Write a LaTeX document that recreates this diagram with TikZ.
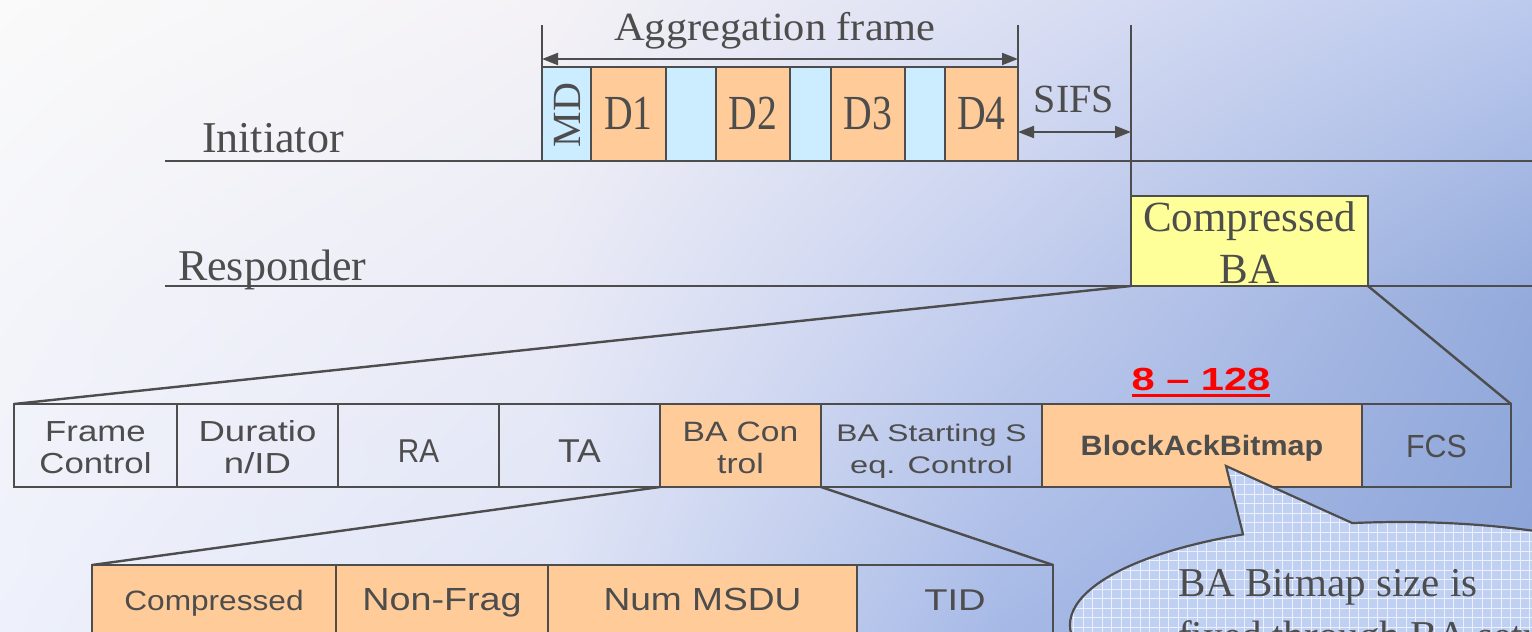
\documentclass[tikz,border=0pt]{standalone}
\usepackage{fontspec}
\usepackage{graphicx}
\setmainfont{Liberation Serif}
\newfontfamily\sansf{Liberation Sans}
\usetikzlibrary{arrows.meta,shadings,calc}

\definecolor{ink}{HTML}{4D4D4D}
\definecolor{dataorange}{HTML}{FFCC99}
\definecolor{delimblue}{HTML}{CCECFF}
\definecolor{bayellow}{HTML}{FFFF99}
\definecolor{calloutblue}{HTML}{C0D0F2}
\definecolor{alertred}{HTML}{FF0000}
% background tints: top, middle (y=300) and bottom of four columns
\definecolor{bgA}{HTML}{FAFAFA}\definecolor{bgAm}{HTML}{F4F5FA}\definecolor{bgAb}{HTML}{EEF1FB}
\definecolor{bgB}{HTML}{F4F2F6}\definecolor{bgBm}{HTML}{E9EAF6}\definecolor{bgBb}{HTML}{DDE3F6}
\definecolor{bgC}{HTML}{DCE0F3}\definecolor{bgCm}{HTML}{C2CDEE}\definecolor{bgCb}{HTML}{A6B9E6}
\definecolor{bgD}{HTML}{BCCAEE}\definecolor{bgDm}{HTML}{93AADB}\definecolor{bgDb}{HTML}{8AA3D8}

\newcommand\fsz[1]{\fontsize{#1}{#1}\selectfont}
\newcommand\sx[2]{\scalebox{#1}[1]{#2}}
\newcommand\redul[1]{\setbox0\hbox{#1}\rlap{\color{alertred}\rule[-7pt]{\wd0}{3pt}}\box0}
% one field of a frame: name, left, top, right, bottom, fill
\newcommand\fieldbox[6]{%
  \node[fieldcell, fill=#6, minimum width={#4-#2}, minimum height={#5-#3}]
    (#1) at ({(#2+#4)/2},{(#3+#5)/2}) {};}
% one backdrop patch: left, top, right, bottom, four corner colours
\newcommand\bgpatch[8]{%
  \shade[upper left=#5, upper right=#6, lower left=#7, lower right=#8] (#1,#2) rectangle (#3,#4);}

\tikzset{
  ln/.style={draw=ink, line width=2.4pt},
  fieldcell/.style={draw=ink, line width=2.4pt, rectangle, inner sep=0pt, outer sep=0pt},
  lbl/.style={text=ink, inner sep=0pt, outer sep=0pt, anchor=base},
  seriflbl/.style={lbl, font=\fsz{#1}},
  sanslbl/.style={lbl, font=\sansf\fsz{#1}},
  dimarrow/.style={draw=ink, line width=2pt,
    {Triangle[length=16pt,width=12pt]}-{Triangle[length=16pt,width=12pt]}},
}

\begin{document}
\begin{tikzpicture}[x=1pt,y=-1pt]
\useasboundingbox (0,0) rectangle (1532,632);
\clip (0,0) rectangle (1532,632);

% backdrop
\bgpatch{0}{0}{551}{301}{bgA}{bgB}{bgAm}{bgBm}
\bgpatch{550}{0}{1001}{301}{bgB}{bgC}{bgBm}{bgCm}
\bgpatch{1000}{0}{1532}{301}{bgC}{bgD}{bgCm}{bgDm}
\bgpatch{0}{300}{551}{632}{bgAm}{bgBm}{bgAb}{bgBb}
\bgpatch{550}{300}{1001}{632}{bgBm}{bgCm}{bgBb}{bgCb}
\bgpatch{1000}{300}{1532}{632}{bgCm}{bgDm}{bgCb}{bgDb}

% time lines
\coordinate (initL) at (165,161);
\coordinate (initR) at (1532,161);
\coordinate (respL) at (165,286);
\coordinate (respR) at (1532,286);
\draw[ln] (initL) -- (initR);
\draw[ln] (respL) -- (respR);

\node[seriflbl=44, anchor=base west] (initlbl) at (202,152) {Initiator};
\node[seriflbl=44, anchor=base west] (resplbl) at (178,280) {Responder};

% aggregated frame
\fieldbox{md}{542}{67}{591}{161}{delimblue}
\fieldbox{d1}{591}{67}{666}{161}{dataorange}
\fieldbox{g1}{666}{67}{716}{161}{delimblue}
\fieldbox{d2}{716}{67}{790}{161}{dataorange}
\fieldbox{g2}{790}{67}{831}{161}{delimblue}
\fieldbox{d3}{831}{67}{905}{161}{dataorange}
\fieldbox{g3}{905}{67}{945}{161}{delimblue}
\fieldbox{d4}{945}{67}{1018}{161}{dataorange}

\node[lbl, font=\fsz{40}, rotate=90, anchor=center] (mdlbl) at (567,115) {MD};
\node[seriflbl=49] (d1lbl) at (d1.center |- 0,129) {\sx{0.81}{D1}};
\node[seriflbl=49] (d2lbl) at (d2.center |- 0,129) {\sx{0.81}{D2}};
\node[seriflbl=49] (d3lbl) at (d3.center |- 0,129) {\sx{0.81}{D3}};
\node[seriflbl=49] (d4lbl) at (d4.center |- 0,129) {\sx{0.81}{D4}};

% extent of the aggregation frame
\coordinate (aggTopL) at (542,25);
\coordinate (aggTopR) at (1018,25);
\coordinate (aggArrL) at (542,59);
\coordinate (aggArrR) at (1018,59);
\draw[ln, line width=2pt] (aggTopL) -- (md.north west);
\draw[ln, line width=2pt] (aggTopR) -- (d4.north east);
\draw[dimarrow] (aggArrL) -- (aggArrR);
\node[seriflbl=40] (agglbl) at (775,40) {\sx{1.06}{Aggregation frame}};

% compressed block ack
\fieldbox{cba}{1131}{196}{1368}{286}{bayellow}
\node[seriflbl=43] (cbalbl1) at (cba.center |- 0,231) {Compressed};
\node[seriflbl=43] (cbalbl2) at (cba.center |- 0,283) {BA};

% SIFS gap
\coordinate (sifsTop) at (1131,25);
\coordinate (sifsL) at (1018,132);
\coordinate (sifsR) at (1131,132);
\draw[ln, line width=2pt] (sifsTop) -- (cba.north west);
\draw[dimarrow] (sifsL) -- (sifsR);
\node[seriflbl=40] (sifslbl) at (1074,112) {SIFS};

% block ack frame format
\fieldbox{fc}{14}{404}{177}{487}{none}
\fieldbox{dur}{177}{404}{338}{487}{none}
\fieldbox{ra}{338}{404}{499}{487}{none}
\fieldbox{ta}{499}{404}{660}{487}{none}
\fieldbox{bac}{660}{404}{821}{487}{dataorange}
\fieldbox{bass}{821}{404}{1042}{487}{none}
\fieldbox{bab}{1042}{404}{1362}{487}{dataorange}
\fieldbox{fcs}{1362}{404}{1511}{487}{none}

\draw[ln] (cba.south west) -- (fc.north west);
\draw[ln] (cba.south east) -- (fcs.north east);

\node[sanslbl=29] (fclbl1) at (fc.center |- 0,441.7) {\sx{1.2}{Frame}};
\node[sanslbl=29] (fclbl2) at (fc.center |- 0,473) {\sx{1.2}{Control}};
\node[sanslbl=29] (durlbl1) at (dur.center |- 0,441.7) {\sx{1.26}{Duratio}};
\node[sanslbl=29] (durlbl2) at (dur.center |- 0,473) {\sx{1.26}{n/ID}};
\node[sanslbl=33] (ralbl) at (ra.center |- 0,462) {\sx{0.9}{RA}};
\node[sanslbl=33] (talbl) at (ta.center |- 0,462) {\sx{1.08}{TA}};
\node[sanslbl=28] (baclbl1) at (bac.center |- 0,441.7) {\sx{1.2}{BA Con}};
\node[sanslbl=28] (baclbl2) at (bac.center |- 0,473) {\sx{1.2}{trol}};
\node[sanslbl=24] (basslbl1) at (bass.center |- 0,441.7) {\sx{1.32}{BA Starting S}};
\node[sanslbl=24] (basslbl2) at (bass.center |- 0,473) {\sx{1.36}{eq. Control}};
\node[lbl, font=\sansf\bfseries\fsz{28}] (bablbl) at (bab.center |- 0,455) {\sx{1.09}{BlockAckBitmap}};
\node[sanslbl=32] (fcslbl) at (fcs.center |- 0,457) {\sx{0.95}{FCS}};
\node[lbl, text=alertred, font=\sansf\bfseries\fsz{32}] (sizelbl) at (1201,390) {\redul{\sx{1.3}{8 – 128}}};

% BA control subfields
\fieldbox{comp}{92}{565}{336}{650}{dataorange}
\fieldbox{nonfrag}{336}{565}{548}{650}{dataorange}
\fieldbox{nummsdu}{548}{565}{857}{650}{dataorange}
\fieldbox{tid}{857}{565}{1053}{650}{none}

\draw[ln] (bac.south west) -- (comp.north west);
\draw[ln] (bac.south east) -- (tid.north east);

\node[sanslbl=28] (complbl) at (comp.center |- 0,610) {\sx{1.13}{Compressed}};
\node[sanslbl=32] (nonfraglbl) at (nonfrag.center |- 0,610) {\sx{1.18}{Non-Frag}};
\node[sanslbl=32] (nummsdulbl) at (nummsdu.center |- 0,610) {\sx{1.16}{Num MSDU}};
\node[sanslbl=30] (tidlbl) at (tid.center |- 0,610) {\sx{1.27}{TID}};

% note balloon with a fine grid texture
\coordinate (noteTip) at (1226,466);
\coordinate (noteC) at (1400,625);
\path[fill=calloutblue, draw=ink, line width=2.2pt,
      path picture={\draw[white, line width=0.9pt, opacity=0.7,
        xstep=9.5pt, ystep=9.5pt]
        (path picture bounding box.south west) grid (path picture bounding box.north east);}]
  (noteTip) -- ($(noteC)+(241.6:330 and 103)$)
  arc[start angle=241.6, end angle=-98.3, x radius=330, y radius=103]
  -- cycle;
\node[seriflbl=41, anchor=base west] (noteline1) at (1178,596) {BA Bitmap size is};
\node[seriflbl=41, anchor=base west] (noteline2) at (1178,649) {fixed through BA setup};
\end{tikzpicture}
\end{document}
